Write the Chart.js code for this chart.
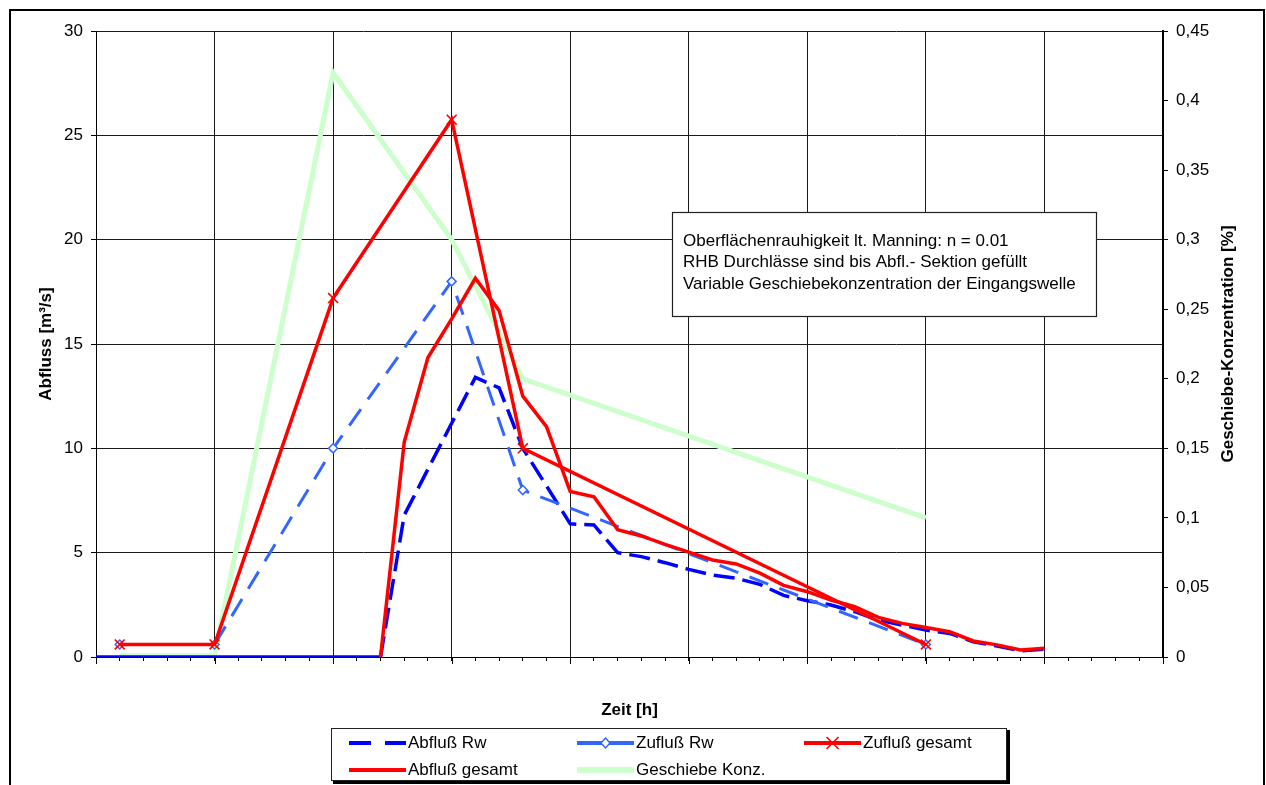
<!DOCTYPE html>
<html><head><meta charset="utf-8">
<script src="https://cdn.jsdelivr.net/npm/chart.js@4.4.1/dist/chart.umd.min.js"></script>
<style>html,body{margin:0;padding:0;background:#fff;} #c{display:block;}</style>
</head><body>
<canvas id="c" width="1266" height="785"></canvas>
<script>
// ---------- data ----------
const seriesNames = ['Abfluß Rw', 'Zufluß Rw', 'Zufluß gesamt', 'Abfluß gesamt', 'Geschiebe Konz.'];
const noteLines = [
  'Oberflächenrauhigkeit lt. Manning: n = 0.01',
  'RHB Durchlässe sind bis Abfl.- Sektion gefüllt',
  'Variable Geschiebekonzentration der Eingangswelle'
];
const xTitle = 'Zeit [h]';
const yTitle = 'Abfluss [m³/s]';
const y2Title = 'Geschiebe-Konzentration [%]';

const abflussRwTime = [0,1,2,3,4,5,6,7,8,9,10,11,12,13,14,15,16,17,18,19,20,21,22,23,24,25,26,27,28,29,30,31,32,33,34,35,36,37,38,39,40];
const abflussRwValues = [0,0,0,0,0,0,0,0,0,0,0,0,0,6.8,9.0,11.2,13.4,12.9,10.0,8.2,6.38,6.33,5.0,4.81,4.52,4.2,3.93,3.77,3.48,2.95,2.7,2.49,2.17,1.77,1.53,1.29,1.13,0.73,0.53,0.29,0.37];

const abflussGesamtTime = [12,13,14,15,16,17,18,19,20,21,22,23,24,25,26,27,28,29,30,31,32,33,34,35,36,37,38,39,40];
const abflussGesamtValues = [0,10.3,14.35,16.2,18.15,16.6,12.5,11.04,7.93,7.68,6.1,5.8,5.4,5.03,4.65,4.46,4.02,3.43,3.13,2.73,2.41,1.9,1.61,1.41,1.21,0.77,0.58,0.34,0.42];

const zuflussTime = [1,5,10,15,18,35];
const zuflussRwValues = [0.6,0.6,10,18,8,0.6];
const zuflussGesamtValues = [0.6,0.6,17.2,25.75,10,0.6];

const geschiebeTime = [1,5,10,15,18,35];
const geschiebeValues = [0.001,0.001,0.42,0.3,0.2,0.1];

// ---------- styles ----------
const FONT = 'Liberation Sans, Arial, sans-serif';
const C_DARKBLUE = '#0000ff';
const C_BLUE = '#3366ff';
const C_RED = '#ff0000';
const C_GREEN = '#ccffcc';

const pts = (t, v) => t.map((x, i) => ({x: x, y: v[i]}));

Chart.defaults.font.family = FONT;
Chart.defaults.font.size = 17;
Chart.defaults.color = '#000';

const deco = {
  id: 'deco',
  beforeDraw(chart) {
    const ctx = chart.ctx;
    ctx.save();
    ctx.fillStyle = '#fff';
    ctx.fillRect(0, 0, chart.width, chart.height);
    ctx.restore();
  },
  afterDraw(chart) {
    const ctx = chart.ctx;
    const ca = chart.chartArea;
    ctx.save();
    // outer frame
    ctx.strokeStyle = '#000';
    ctx.lineWidth = 2;
    ctx.beginPath();
    ctx.moveTo(10, 800); ctx.lineTo(10, 10); ctx.lineTo(1264, 10); ctx.lineTo(1264, 800);
    ctx.stroke();

    // longer major x tick marks
    const xs = chart.scales.x;
    ctx.strokeStyle = '#000';
    ctx.lineWidth = 1;
    for (let v = 0; v <= 45; v += 5) {
      const px = Math.round(xs.getPixelForValue(v)) + 0.5;
      ctx.beginPath(); ctx.moveTo(px, ca.bottom); ctx.lineTo(px, ca.bottom + 7); ctx.stroke();
    }

    // right axis title, reading bottom-to-top
    ctx.save();
    ctx.translate(1228, (ca.top + ca.bottom) / 2);
    ctx.rotate(-Math.PI / 2);
    ctx.font = 'bold 17px ' + FONT;
    ctx.fillStyle = '#000';
    ctx.textAlign = 'center';
    ctx.textBaseline = 'middle';
    ctx.fillText(y2Title, 0, 0);
    ctx.restore();

    // annotation box
    ctx.fillStyle = '#fff';
    ctx.fillRect(672, 212, 425, 105);
    ctx.strokeStyle = '#222';
    ctx.lineWidth = 1.2;
    ctx.strokeRect(672.5, 212.5, 424, 104);
    ctx.fillStyle = '#000';
    ctx.font = '17px ' + FONT;
    ctx.textBaseline = 'middle';
    ctx.textAlign = 'left';
    noteLines.forEach((l, i) => ctx.fillText(l, 683, 241 + i * 21.8));

    // legend box
    ctx.fillStyle = '#fff';
    ctx.fillRect(331, 728, 676, 53);
    ctx.strokeStyle = '#222';
    ctx.lineWidth = 1;
    ctx.strokeRect(331.5, 728.5, 675, 52);
    ctx.fillStyle = '#000';
    ctx.fillRect(333, 781, 676, 3);
    ctx.fillRect(1007, 730, 3, 54);

    const cols = [349, 577, 804];
    const rows = [743, 770];
    const sw = 57;
    seriesNames.forEach((name, i) => {
      const x0 = cols[i % 3], y = rows[Math.floor(i / 3)];
      const x1 = x0 + sw, xm = (x0 + x1) / 2;
      ctx.save();
      ctx.lineCap = 'butt';
      if (i === 0) {
        ctx.strokeStyle = C_DARKBLUE; ctx.lineWidth = 4; ctx.setLineDash([22, 14]);
        ctx.beginPath(); ctx.moveTo(x0, y); ctx.lineTo(x1, y); ctx.stroke();
      } else if (i === 1) {
        ctx.strokeStyle = C_BLUE; ctx.lineWidth = 4;
        ctx.beginPath(); ctx.moveTo(x0, y); ctx.lineTo(x1, y); ctx.stroke();
        ctx.fillStyle = '#fff'; ctx.lineWidth = 1.5;
        ctx.beginPath(); ctx.moveTo(xm, y - 5); ctx.lineTo(xm + 4.5, y); ctx.lineTo(xm, y + 5); ctx.lineTo(xm - 4.5, y); ctx.closePath();
        ctx.fill(); ctx.stroke();
      } else if (i === 2) {
        ctx.strokeStyle = C_RED; ctx.lineWidth = 4;
        ctx.beginPath(); ctx.moveTo(x0, y); ctx.lineTo(x1, y); ctx.stroke();
        ctx.lineWidth = 1.6;
        ctx.beginPath(); ctx.moveTo(xm - 6, y - 6); ctx.lineTo(xm + 6, y + 6); ctx.moveTo(xm - 6, y + 6); ctx.lineTo(xm + 6, y - 6); ctx.stroke();
      } else if (i === 3) {
        ctx.strokeStyle = C_RED; ctx.lineWidth = 4;
        ctx.beginPath(); ctx.moveTo(x0, y); ctx.lineTo(x1, y); ctx.stroke();
      } else {
        ctx.strokeStyle = C_GREEN; ctx.lineWidth = 6;
        ctx.beginPath(); ctx.moveTo(x0, y); ctx.lineTo(x1, y); ctx.stroke();
      }
      ctx.restore();
      ctx.fillStyle = '#000';
      ctx.font = '17px ' + FONT;
      ctx.textBaseline = 'middle';
      ctx.textAlign = 'left';
      ctx.fillText(name, x1 + 2, y);
    });
    ctx.restore();
  }
};

new Chart(document.getElementById('c'), {
  type: 'line',
  data: {
    datasets: [
      {
        label: seriesNames[3], data: pts(abflussGesamtTime, abflussGesamtValues), yAxisID: 'y',
        borderColor: C_RED, borderWidth: 3.5, pointRadius: 0, tension: 0, order: 1
      },
      {
        label: seriesNames[2], data: pts(zuflussTime, zuflussGesamtValues), yAxisID: 'y',
        borderColor: C_RED, borderWidth: 3.5, tension: 0, order: 2,
        pointStyle: 'crossRot', pointRadius: 7, pointBorderWidth: 1.6, pointBorderColor: C_RED, pointBackgroundColor: C_RED
      },
      {
        label: seriesNames[1], data: pts(zuflussTime, zuflussRwValues), yAxisID: 'y',
        borderColor: C_BLUE, borderWidth: 3, borderDash: [20, 12], tension: 0, order: 3,
        pointStyle: 'rectRot', pointRadius: 4.5, pointBorderWidth: 1.5, pointBorderColor: C_BLUE, pointBackgroundColor: '#fff'
      },
      {
        label: seriesNames[0], data: pts(abflussRwTime, abflussRwValues), yAxisID: 'y',
        borderColor: C_DARKBLUE, borderWidth: 3.5, borderDash: [21, 8], pointRadius: 0, tension: 0, order: 4,
        segment: { borderDash: c => (c.p0.parsed.y === 0 && c.p1.parsed.y === 0) ? [] : undefined }
      },
      {
        label: seriesNames[4], data: pts(geschiebeTime, geschiebeValues), yAxisID: 'y2',
        borderColor: C_GREEN, borderWidth: 5, pointRadius: 0, tension: 0, order: 5
      }
    ]
  },
  options: {
    responsive: false,
    animation: false,
    devicePixelRatio: 1,
    layout: { padding: { top: 31, left: 0, right: 0, bottom: 0 } },
    plugins: { legend: { display: false }, tooltip: { enabled: false } },
    scales: {
      x: {
        type: 'linear', position: 'bottom', min: 0, max: 45,
        afterFit: s => { s.height = 128; },
        ticks: { stepSize: 1, display: false, autoSkip: false, maxTicksLimit: 100 },
        grid: {
          color: c => (c.tick && Math.round(c.tick.value) % 5 === 0) ? '#1a1a1a' : 'rgba(0,0,0,0)',
          lineWidth: 1, drawTicks: true, tickLength: 4, tickColor: '#000'
        },
        border: { color: '#000', width: 1 },
        title: { display: true, text: xTitle, color: '#000', font: { family: FONT, size: 17, weight: 'bold' }, padding: { top: 0, bottom: 64 } }
      },
      y: {
        position: 'left', min: 0, max: 30,
        afterFit: s => { s.width = 96; },
        ticks: { stepSize: 5, padding: 8, color: '#000', font: { family: FONT, size: 17 } },
        grid: { color: '#1a1a1a', lineWidth: 1, tickLength: 5, tickColor: '#000' },
        border: { color: '#000', width: 1 },
        title: { display: true, text: yTitle, color: '#000', font: { family: FONT, size: 17, weight: 'bold' }, padding: { top: 36, bottom: 0 } }
      },
      y2: {
        position: 'right', min: 0, max: 0.45,
        afterFit: s => { s.width = 103; },
        ticks: { stepSize: 0.05, padding: 8, color: '#000', font: { family: FONT, size: 17 },
                 callback: v => String(Math.round(v * 100) / 100).replace('.', ',') },
        grid: { drawOnChartArea: false, tickLength: 5, tickColor: '#000' },
        border: { color: '#000', width: 2 },
        title: { display: false }
      }
    }
  },
  plugins: [deco]
});
</script>
</body></html>
